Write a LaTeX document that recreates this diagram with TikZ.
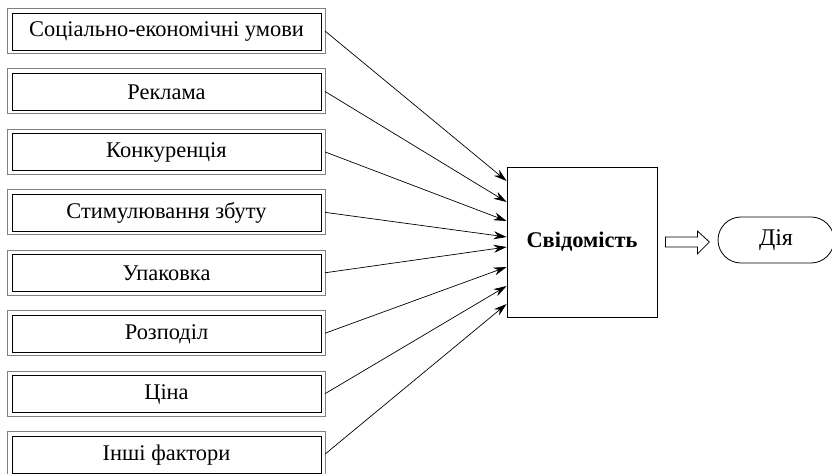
\documentclass[tikz,border=0pt]{standalone}
\usepackage{fontspec}
\setmainfont{Liberation Serif}
\usetikzlibrary{arrows.meta,shapes.misc}
\begin{document}
\begin{tikzpicture}[x=1bp,y=-1bp,
  factor/.style={draw=black,line width=0.8bp,minimum width=309bp,minimum height=37bp,inner sep=0pt,font=\fontsize{22.5}{26}\selectfont},
  outerbox/.style={draw=black!50,line width=0.9bp},
  feed/.style={line width=0.7bp,-{Stealth[length=13bp,width=8bp]}},
  mainbox/.style={draw=black,line width=0.8bp,minimum width=150bp,minimum height=150bp,inner sep=0pt,font=\fontsize{22.5}{26}\selectfont\bfseries},
  actbox/.style={draw=black,line width=0.8bp,rounded rectangle,minimum width=116bp,minimum height=46bp,inner sep=0pt,font=\fontsize{24}{28}\selectfont},
  hollow/.style={draw=black,line width=0.8bp,fill=white}]
\useasboundingbox (0,0) rectangle (832,474);
\node[mainbox] (c) at (582,242) {Свідомість};
\node[actbox] (d) at (776,240) {Дія};
\foreach \i/\t/\e in {1/Соціально-економічні умови/181,2/Реклама/202,3/Конкуренція/221,4/Стимулювання збуту/237,5/Упаковка/247,6/Розподіл/267,7/Ціна/286,8/Інші фактори/304}{
  \pgfmathsetmacro\yc{31+60.45*(\i-1)}
  \node[factor] (f\i) at (166.5,\yc+0.5) {\t};
  \draw[outerbox] (7.5,\yc-22.5) rectangle (325,\yc+22.5);
  \coordinate (s\i) at (325,\yc);
  \coordinate (e\i) at (c.west |- 0,\e);
  \draw[feed] (s\i) -- (e\i);
}
\draw[hollow] ([xshift=8bp]c.east) ++(0,-5) -- ++(32,0) -- ++(0,-6) -- ++(12,11) -- ++(-12,12) -- ++(0,-7) -- ++(-32,0) -- cycle;
\end{tikzpicture}
\end{document}
